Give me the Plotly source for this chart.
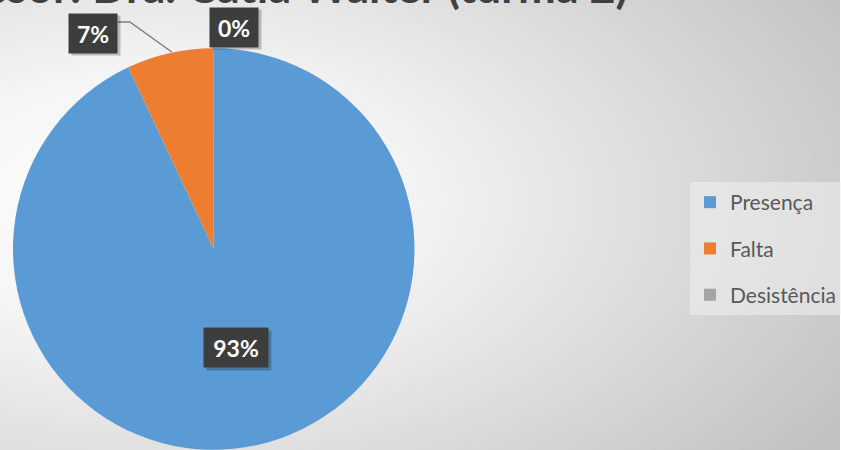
import base64
import math
import plotly.graph_objects as go

# ---- data ----
categories = ["Presença", "Falta", "Desistência"]
values = [93, 7, 0]
colors = ["#5B9BD5", "#ED7D31", "#A5A5A5"]
title_text = "Professor: Dra. Cátia Walter (turma 2)"

W, H = 841, 450

# pie geometry in pixels (layout)
pie_left, pie_right = 13, 415
pie_top_px = 48
pie_R = (pie_right - pie_left) / 2
pie_cx = (pie_left + pie_right) / 2
pie_cy = pie_top_px + pie_R

total = sum(values)
pcts = [v / total for v in values]
pct_labels = [f"{round(p * 100)}%" for p in pcts]

def px(x):
    return x / W

def py(y):
    return 1 - y / H

fig = go.Figure()

fig.add_trace(go.Pie(
    labels=categories,
    values=values,
    marker=dict(colors=colors, line=dict(width=0)),
    sort=False,
    direction="clockwise",
    rotation=0,
    textinfo="none",
    hoverinfo="label+percent",
    showlegend=False,
    domain=dict(x=[px(pie_left), px(pie_right)],
                y=[max(0, py(pie_top_px + 2 * pie_R)), py(pie_top_px)]),
))

# legend via dummy traces (for spacing control)
for name, col in zip(categories, colors):
    fig.add_trace(go.Scatter(
        x=[None], y=[None], mode="markers", name=name, legendgroup=name,
        marker=dict(symbol="square", size=12, color=col),
    ))

# data label positions: inside label for the big slice at half radius on mid-angle,
# outside labels for the small slices (placed as in the reference)
cum = 0
label_pos = []
outside_pos = {1: (93, 33), 2: (234, 27)}
for i, p in enumerate(pcts):
    mid = (cum + p / 2) * 2 * math.pi
    cum += p
    if i in outside_pos:
        label_pos.append(outside_pos[i])
    else:
        r = 0.5 * pie_R
        label_pos.append((pie_cx + r * math.sin(mid), pie_cy - r * math.cos(mid)))

annotations = []
for (lx, ly), txt in zip(label_pos, pct_labels):
    box_w = 34 if len(txt) <= 2 else 50
    # shadow
    annotations.append(dict(
        x=px(lx + 3), y=py(ly + 3), xref="paper", yref="paper", showarrow=False,
        xanchor="center", yanchor="middle", width=box_w, height=25,
        text=" ", font=dict(family="Lato", size=23, color="rgba(0,0,0,0)"),
        bgcolor="rgba(0,0,0,0.22)", borderpad=7,
    ))
    annotations.append(dict(
        x=px(lx), y=py(ly), xref="paper", yref="paper", showarrow=False,
        xanchor="center", yanchor="middle", width=box_w, height=25,
        text=f"<b>{txt}</b>", font=dict(family="Lato", size=23, color="white"),
        bgcolor="#3d3d3d", borderpad=7,
    ))

# title (cut off at the top as in the reference)
annotations.append(dict(
    x=px(631), y=1, xref="paper", yref="paper", xanchor="right", yanchor="bottom",
    yshift=-15, showarrow=False,
    text=f"<b>{title_text}</b>", font=dict(family="Lato", size=45, color="#404040"),
))

# background gradient
svg = (
    f'<svg xmlns="http://www.w3.org/2000/svg" width="{W}" height="{H}" preserveAspectRatio="none">'
    '<defs><radialGradient id="g" cx="0.18" cy="0.45" r="0.95">'
    '<stop offset="0" stop-color="#ffffff"/>'
    '<stop offset="0.3" stop-color="#f5f5f5"/>'
    '<stop offset="1" stop-color="#c2c2c2"/>'
    '</radialGradient></defs>'
    f'<rect width="{W}" height="{H}" fill="url(#g)"/></svg>'
)
bg_src = "data:image/svg+xml;base64," + base64.b64encode(svg.encode()).decode()

fig.update_layout(
    width=W, height=H,
    margin=dict(l=0, r=0, t=0, b=0),
    paper_bgcolor="white",
    plot_bgcolor="rgba(0,0,0,0)",
    xaxis=dict(visible=False),
    yaxis=dict(visible=False),
    images=[dict(source=bg_src, xref="paper", yref="paper", x=0, y=1, sizex=1, sizey=1,
                 sizing="stretch", layer="below")],
    annotations=annotations,
    shapes=[dict(type="path", xref="paper", yref="paper",
                 path=f"M {px(118)} {py(22)} L {px(130)} {py(22)} L {px(172)} {py(52)}",
                 line=dict(color="#7f7f7f", width=1.5))],
    legend=dict(
        x=px(691), y=py(182), xanchor="left", yanchor="top",
        bgcolor="rgba(240,240,240,0.55)",
        font=dict(family="Lato", size=21, color="#595959"),
        tracegroupgap=16, itemsizing="constant",
    ),
    showlegend=True,
)

fig.write_html("out.html", config={"displayModeBar": False},
               post_script="document.body.style.margin='0';document.body.style.overflow='hidden';")
